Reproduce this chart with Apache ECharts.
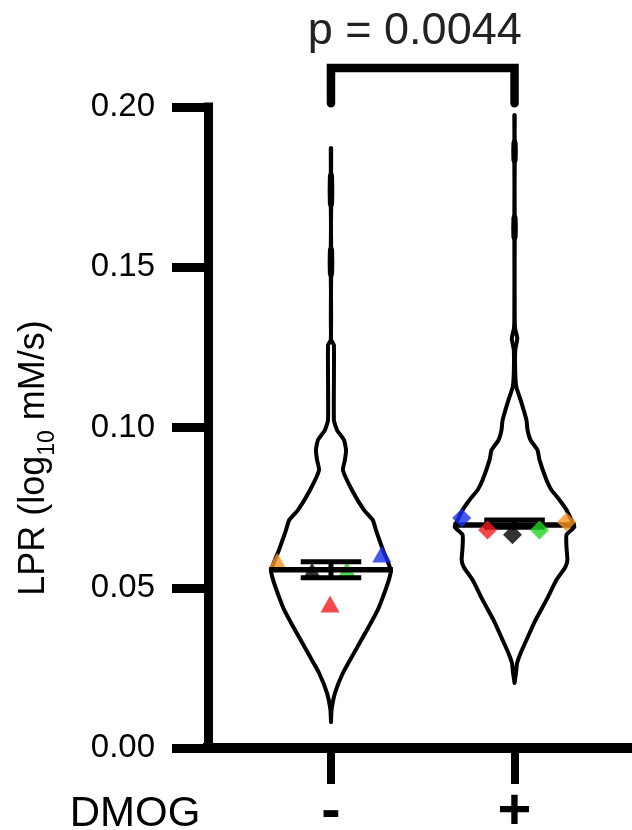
<!DOCTYPE html>
<html><head><meta charset="utf-8">
<script src="https://cdn.jsdelivr.net/npm/echarts@6/dist/echarts.min.js"></script>
<style>html,body{margin:0;padding:0;background:#fff}#c{width:632px;height:830px}</style>
</head><body><div id="c"></div>
<script>
// ---- data ----
const groupX = [1, 2];
const groupLabels = ['-', '+'];
const xName = 'DMOG';
const yName = 'LPR (log{sub|10} mM/s)';
const pText = 'p = 0.0044';
const bracketY = [0.2122, 0.2012];

// violin outlines: y values (bottom→top) and half widths (x-axis units)
const violinMinusY = [0.0081,0.0119,0.0172,0.0234,0.0296,0.0368,0.0431,0.0462,0.0524,0.0555,0.0618,0.0680,0.0711,0.0743,0.0805,0.0867,0.0899,0.0930,0.0961,0.0992,0.1023,0.1257,0.1273,0.1470,0.1480,0.1553,0.1563,0.1688,0.1698,0.1784,0.1794,0.1872];
const violinMinusW = [0,0.003,0.022,0.065,0.125,0.196,0.255,0.277,0.315,0.326,0.283,0.245,0.228,0.179,0.114,0.065,0.076,0.082,0.071,0.033,0.016,0.016,0.001,0.001,0.006,0.006,0.001,0.001,0.006,0.006,0.001,0.001];
const violinPlusY = [0.0203,0.0234,0.0265,0.0296,0.0337,0.0399,0.0462,0.0524,0.0565,0.0587,0.0627,0.0665,0.0690,0.0711,0.0743,0.0774,0.0805,0.0836,0.0899,0.0930,0.0961,0.0992,0.1023,0.1086,0.1126,0.1170,0.1242,0.1278,0.1310,0.1345,0.1585,0.1595,0.1653,0.1663,0.1825,0.1835,0.1887,0.1897,0.1975];
const violinPlusW = [0,0.008,0.014,0.033,0.065,0.114,0.174,0.228,0.277,0.288,0.283,0.283,0.326,0.310,0.283,0.245,0.201,0.174,0.136,0.125,0.087,0.071,0.065,0.033,0.010,0.004,0.004,0.015,0.003,0.001,0.001,0.006,0.006,0.001,0.001,0.006,0.006,0.001,0.001];

// replicate means
const minusRepX = [0.707, 0.897, 1.087, 1.277, 0.995];
const minusRepY = [0.0583, 0.0552, 0.0555, 0.0605, 0.0449];
const minusRepColors = ['#F7931E', '#000000', '#22D422', '#1A2EF0', '#F21C1C'];
const plusRepX = [1.712, 1.853, 1.989, 2.136, 2.283];
const plusRepY = [0.0718, 0.0680, 0.0665, 0.0680, 0.0705];
const plusRepColors = ['#1A2EF0', '#F21C1C', '#000000', '#22D422', '#F7931E'];

// summary stats
const medians = [0.0556, 0.0696];
const means = [0.0556, 0.0700];
const sems = [0.0025, 0.0011];

// ---- chart ----
const FONT = 'Arial, "Liberation Sans", Helvetica, sans-serif';
const violinYs = [violinMinusY, violinPlusY];
const violinWs = [violinMinusW, violinPlusW];
const CAP_HALF = 0.165;

function interpW(ys, ws, y) {
  for (let i = 0; i < ys.length - 1; i++) {
    if (y >= ys[i] && y <= ys[i + 1]) {
      const t = (y - ys[i]) / (ys[i + 1] - ys[i]);
      return ws[i] + t * (ws[i + 1] - ws[i]);
    }
  }
  return 0;
}

const chart = echarts.init(document.getElementById('c'));
const option = {
  animation: false,
  backgroundColor: '#fff',
  grid: { left: 208, right: 0, top: 107, bottom: 82, containLabel: false, outerBoundsMode: 'none' },
  xAxis: {
    type: 'value', min: 0.33, max: 2.64,
    splitLine: { show: false },
    axisLine: { show: true, onZero: false, lineStyle: { color: '#000', width: 10, cap: 'square' } },
    axisTick: { show: true, customValues: groupX, length: 36, lineStyle: { color: '#000', width: 8 } },
    axisLabel: {
      show: true, customValues: groupX, margin: 36,
      formatter: v => groupLabels[groupX.indexOf(v)],
      color: '#000', fontFamily: FONT, fontSize: 58, fontWeight: 'bold'
    }
  },
  yAxis: {
    type: 'value', min: 0, max: 0.2, interval: 0.05,
    splitLine: { show: false },
    axisLine: { show: true, onZero: false, lineStyle: { color: '#000', width: 9, cap: 'square' } },
    axisTick: { show: true, length: 36, lineStyle: { color: '#000', width: 9 } },
    axisLabel: { margin: 53, formatter: v => v.toFixed(2), color: '#000', fontFamily: FONT, fontSize: 33 }
  },
  graphic: [
    {
      type: 'text', x: 135, y: 814,
      style: { text: xName, fontFamily: FONT, fontSize: 42, fill: '#000', align: 'center', verticalAlign: 'middle' }
    },
    {
      type: 'text', x: 34, y: 458, rotation: Math.PI / 2,
      style: {
        text: yName, fontFamily: FONT, fontSize: 36, fill: '#000', align: 'center', verticalAlign: 'middle', lineHeight: 50,
        rich: { sub: { fontFamily: FONT, fontSize: 23, fill: '#000', verticalAlign: 'bottom', lineHeight: 23 } }
      }
    }
  ],
  series: [
    {
      type: 'custom', z: 1, clip: false,
      data: groupX.map((x, i) => [x, medians[i], i]),
      renderItem: function (params, api) {
        const cx = api.value(0);
        const gi = api.value(2);
        const ys = violinYs[gi], ws = violinWs[gi];
        const right = ys.map((y, k) => api.coord([cx + ws[k], y]));
        const left = ys.map((y, k) => api.coord([cx - ws[k], y])).reverse();
        return {
          type: 'polygon',
          shape: { points: right.concat(left), smooth: 0.15 },
          style: { fill: 'rgba(255,255,255,0)', stroke: '#000', lineWidth: 4, lineJoin: 'round' }
        };
      }
    },
    {
      type: 'scatter', z: 2, symbol: 'triangle', symbolSize: [19, 17],
      data: minusRepX.map((x, i) => ({ value: [x, minusRepY[i]], itemStyle: { color: minusRepColors[i] } }))
    },
    {
      type: 'custom', z: 3, clip: false,
      data: groupX.map((x, i) => [x, medians[i], means[i], sems[i], i]),
      renderItem: function (params, api) {
        const cx = api.value(0), med = api.value(1), mean = api.value(2), sem = api.value(3), gi = api.value(4);
        const hw = interpW(violinYs[gi], violinWs[gi], med) + 0.012;
        const s = { stroke: '#000', lineWidth: 5.5 };
        const m1 = api.coord([cx - hw, med]), m2 = api.coord([cx + hw, med]);
        const lo = api.coord([cx, mean - sem]), hi = api.coord([cx, mean + sem]);
        const cl1 = api.coord([cx - CAP_HALF, mean - sem]), cl2 = api.coord([cx + CAP_HALF, mean - sem]);
        const ch1 = api.coord([cx - CAP_HALF, mean + sem]), ch2 = api.coord([cx + CAP_HALF, mean + sem]);
        return {
          type: 'group',
          children: [
            { type: 'line', shape: { x1: m1[0], y1: m1[1], x2: m2[0], y2: m2[1] }, style: s },
            { type: 'line', shape: { x1: lo[0], y1: lo[1], x2: hi[0], y2: hi[1] }, style: { stroke: '#000', lineWidth: 5 } },
            { type: 'line', shape: { x1: cl1[0], y1: cl1[1], x2: cl2[0], y2: cl2[1] }, style: { stroke: '#000', lineWidth: 5 } },
            { type: 'line', shape: { x1: ch1[0], y1: ch1[1], x2: ch2[0], y2: ch2[1] }, style: { stroke: '#000', lineWidth: 5 } }
          ]
        };
      }
    },
    {
      type: 'scatter', z: 4, symbol: 'diamond', symbolSize: 19,
      data: plusRepX.map((x, i) => ({ value: [x, plusRepY[i]], itemStyle: { color: plusRepColors[i] } }))
    },
    {
      type: 'custom', z: 5, clip: false,
      data: [[groupX[0], groupX[1], bracketY[0], bracketY[1]]],
      renderItem: function (params, api) {
        const x1 = api.value(0), x2 = api.value(1), yt = api.value(2), yb = api.value(3);
        const a = api.coord([x1, yb]), b = api.coord([x1, yt]), c = api.coord([x2, yt]), d = api.coord([x2, yb]);
        return {
          type: 'group',
          children: [
            { type: 'polyline', shape: { points: [a, b, c, d] }, style: { fill: null, stroke: '#000', lineWidth: 8.5, lineCap: 'round', lineJoin: 'miter' } },
            { type: 'text', x: (b[0] + c[0]) / 2 - 8, y: b[1] - 36,
              style: { text: pText, fontFamily: FONT, fontSize: 45, fill: '#222', align: 'center', verticalAlign: 'middle' } }
          ]
        };
      }
    }
  ]
};
chart.setOption(option);
</script>
</body></html>
